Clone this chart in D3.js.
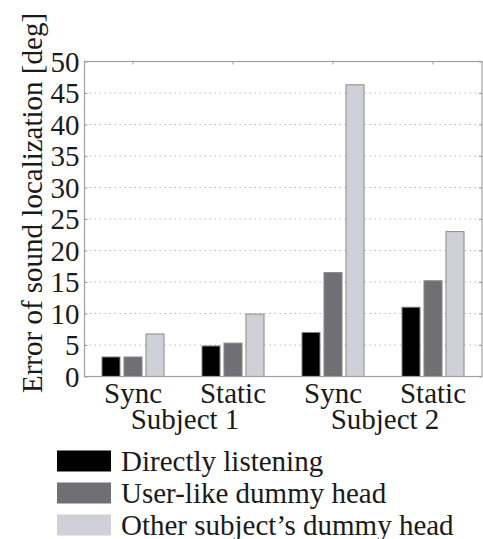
<!DOCTYPE html>
<html><head><meta charset="utf-8">
<script src="https://cdn.jsdelivr.net/npm/d3@7"></script>
<style>body{margin:0;background:#fff} text{font-family:"Liberation Serif","Times New Roman",Times,"DejaVu Serif",serif;}</style>
</head><body>
<svg id="c" width="483" height="539"></svg>
<script>
const conditions = ["Sync", "Static", "Sync", "Static"];
const subjects = ["Subject 1", "Subject 2"];
const seriesNames = ["Directly listening", "User-like dummy head", "Other subject\u2019s dummy head"];
const directly = [3.1, 4.85, 7.0, 11.0];
const userLike = [3.1, 5.3, 16.5, 15.2];
const otherSubj = [6.75, 9.9, 46.3, 23.0];
const yTicks = [0, 5, 10, 15, 20, 25, 30, 35, 40, 45, 50];
const colors = ["#000000", "#6f6f74", "#cfd0d8"];

const seriesVals = [directly, userLike, otherSubj];
const svg = d3.select("#c");
const L = 84.5, R = 482, T = 61.5, B = 376.5;
const FS = 29;

const x = d3.scaleBand().domain(d3.range(conditions.length)).range([83, 483]);
const xs = d3.scaleBand().domain(d3.range(seriesNames.length)).range([-33, 33]).paddingInner(0.18).paddingOuter(0.09);
const y = d3.scaleLinear().domain([0, 50]).range([B, T]);

// gridlines
svg.append("g").selectAll("line").data(yTicks.filter(t => t > 0 && t < 50)).join("line")
  .attr("x1", L).attr("x2", R).attr("y1", d => y(d)).attr("y2", d => y(d))
  .attr("stroke", "#b8b8b8").attr("stroke-width", 1).attr("stroke-dasharray", "1.5,3.5");

// bars
const groups = svg.append("g").selectAll("g").data(conditions).join("g")
  .attr("transform", (d, i) => `translate(${x(i) + x.bandwidth() / 2},0)`);
groups.selectAll("rect").data((d, i) => seriesVals.map((s, k) => ({k, v: s[i]}))).join("rect")
  .attr("x", d => xs(d.k)).attr("width", xs.bandwidth())
  .attr("y", d => y(d.v)).attr("height", d => y(0) - y(d.v))
  .attr("fill", d => colors[d.k]).attr("stroke", "#8a8a8a").attr("stroke-width", 1);

// frame
svg.append("rect").attr("x", L).attr("y", T).attr("width", R - L).attr("height", B - T)
  .attr("fill", "none").attr("stroke", "#a0a0a0").attr("stroke-width", 1.2);

// y axis
const yAxis = d3.axisLeft(y).tickValues(yTicks).tickSize(-3).tickPadding(5);
const gy = svg.append("g").attr("transform", `translate(${L},0)`).call(yAxis);
gy.select(".domain").remove();
gy.attr("font-family", null);
gy.selectAll(".tick line").attr("stroke", "#a0a0a0");
gy.selectAll("text").attr("font-size", FS).attr("fill", "#1a1a1a").attr("dy", "0.34em");

// right ticks
const gr = svg.append("g").attr("transform", `translate(${R},0)`).call(d3.axisRight(y).tickValues(yTicks).tickSize(-3).tickFormat(""));
gr.select(".domain").remove();
gr.selectAll(".tick line").attr("stroke", "#a0a0a0");

// top ticks
const gt = svg.append("g").attr("transform", `translate(0,${T})`).call(d3.axisTop(x).tickSize(-3).tickFormat(""));
gt.select(".domain").remove();
gt.selectAll(".tick line").attr("stroke", "#a0a0a0");

// x axis labels
const gx = svg.append("g").attr("transform", `translate(0,${B})`).call(d3.axisBottom(x).tickSize(0).tickFormat(i => conditions[i]));
gx.select(".domain").remove();
gx.attr("font-family", null);
gx.selectAll("text").attr("font-size", FS).attr("fill", "#1a1a1a").attr("y", 0).attr("dy", "26.5");

// subject labels
svg.append("g").selectAll("text").data(subjects).join("text")
  .attr("x", (d, i) => (x(2 * i) + x(2 * i + 1) + x.bandwidth()) / 2 + 2)
  .attr("y", 428.5).attr("text-anchor", "middle")
  .attr("font-size", FS).attr("fill", "#1a1a1a").text(d => d);

// y label
svg.append("text").attr("transform", "translate(42,203) rotate(-90)")
  .attr("text-anchor", "middle").attr("font-size", FS).attr("fill", "#1a1a1a")
  .text("Error of sound localization [deg]");

// legend
const lg = svg.append("g").selectAll("g").data(seriesNames).join("g")
  .attr("transform", (d, i) => `translate(57,${450.5 + i * 32})`);
lg.append("rect").attr("width", 54).attr("height", 21).attr("fill", (d, i) => colors[i]);
lg.append("text").attr("x", 64).attr("y", 20).attr("font-size", FS).attr("fill", "#1a1a1a").text(d => d);
</script>
</body></html>
